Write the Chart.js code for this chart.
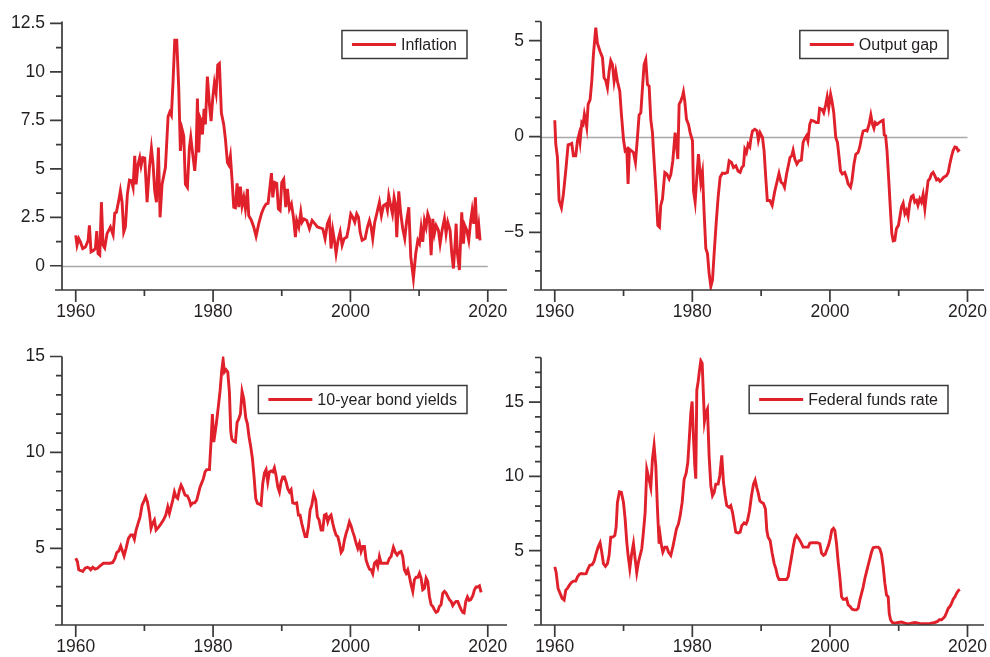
<!DOCTYPE html>
<html>
<head>
<meta charset="utf-8">
<script src="https://cdn.jsdelivr.net/npm/chart.js@4.4.0/dist/chart.umd.min.js"></script>
<style>
  html, body { margin: 0; padding: 0; background: #fff; }
  body { width: 990px; height: 657px; position: relative; overflow: hidden; }
  canvas { position: absolute; }
</style>
</head>
<body>
<canvas id="inflationChart"></canvas>
<canvas id="gapChart"></canvas>
<canvas id="bondChart"></canvas>
<canvas id="fedChart"></canvas>
<script>
// ---- data (quarterly-ish) ----
const yearTicks = [1960, 1980, 2000, 2020];

const inflationTicks = [0, 2.5, 5, 7.5, 10, 12.5];
const inflationYears = [
  1960.00,1960.19,1960.44,1960.68,1961.02,1961.41,1961.80,1961.99,1962.23,1962.62,1962.86,1963.06,1963.25,1963.50,1963.74,1963.98,1964.22,1964.56,1965.05,1965.44,1965.68,1965.92,1966.26,1966.50,1966.75,1966.99,1967.23,1967.52,1967.82,1968.11,1968.35,1968.59,1968.79,1969.08,1969.32,1969.51,1969.76,
  1970.05,1970.39,1970.73,1971.02,1971.26,1971.50,1971.75,1972.04,1972.28,1972.57,1972.82,1973.06,1973.45,1973.69,1973.93,1974.17,1974.42,1974.71,1975.00,1975.24,1975.49,1975.73,1975.97,1976.26,1976.55,1976.75,1977.04,1977.33,1977.52,1977.72,1977.91,1978.11,1978.30,1978.45,1978.69,1978.88,1979.17,1979.47,1979.71,1979.95,
  1980.19,1980.44,1980.68,1980.92,1981.21,1981.55,1981.80,1982.09,1982.28,1982.52,1982.77,1983.01,1983.25,1983.50,1983.74,1983.98,1984.22,1984.47,1984.71,1985.00,1985.19,1985.58,1985.92,1986.26,1986.65,1987.04,1987.38,1987.72,1988.01,1988.50,1988.69,1988.98,1989.27,1989.51,1989.76,
  1990.00,1990.29,1990.58,1990.83,1991.12,1991.41,1991.70,1991.99,1992.18,1992.48,1992.77,1992.96,1993.25,1993.64,1994.03,1994.42,1994.81,1995.19,1995.58,1995.97,1996.31,1996.65,1996.94,1997.18,1997.43,1997.67,1997.91,1998.20,1998.50,1998.79,1999.08,1999.47,1999.76,
  2000.05,2000.34,2000.63,2000.92,2001.17,2001.41,2001.70,2002.14,2002.48,2002.77,2003.01,2003.25,2003.54,2003.83,2004.22,2004.51,2004.81,2005.19,2005.39,2005.58,2005.87,2006.12,2006.36,2006.55,2006.75,2007.04,2007.33,2007.62,2007.91,2008.20,2008.50,2008.79,2009.17,2009.51,2009.81,
  2010.05,2010.29,2010.53,2010.78,2011.02,2011.26,2011.50,2011.75,2011.99,2012.23,2012.48,2012.82,2013.06,2013.35,2013.69,2013.93,2014.17,2014.51,2014.76,2015.00,2015.24,2015.39,2015.58,2015.87,2016.21,2016.46,2016.65,2016.94,2017.23,2017.52,2017.72,2017.96,2018.20,2018.45,2018.69,2018.88
];
const inflationValues = [
  1.57,1.06,1.4,1.23,0.89,0.97,1.3,2.08,0.72,0.8,0.9,1.79,0.63,0.55,3.28,1.06,0.92,1.66,2.0,1.6,2.71,2.76,3.36,3.87,3.28,1.74,2.0,3.7,4.42,4.39,4.04,5.67,4.2,5.24,5.58,5.15,5.58,
  5.55,3.28,5.07,6.06,5.24,3.87,3.28,6.1,2.5,4.2,4.64,5.07,7.7,7.93,7.76,9.5,11.64,11.64,9.16,5.92,7.03,6.69,4.2,4.04,6.1,6.64,5.75,4.9,5.75,8.62,5.84,7.63,7.46,6.77,8.1,7.29,9.76,8.31,7.46,8.65,
  9.42,8.91,10.36,10.44,7.88,7.29,6.52,5.32,5.2,5.67,4.39,3.02,2.99,4.25,3.02,4.08,3.1,3.53,2.94,3.96,2.59,2.34,2.0,1.52,2.17,2.68,2.99,3.19,3.22,4.78,3.53,4.3,4.25,2.94,2.85,
  4.3,4.47,3.02,3.96,2.94,3.19,2.51,1.48,2.34,2.0,2.76,2.25,2.42,2.34,1.91,2.34,2.17,2.0,1.96,1.91,1.4,2.17,2.42,0.89,1.83,1.31,0.63,1.31,1.74,1.06,1.4,1.48,2.0,
  2.68,2.51,2.25,2.68,2.51,1.74,1.31,1.4,2.0,2.34,2.0,1.4,2.25,2.68,3.28,2.59,3.1,3.19,2.88,3.62,3.1,2.68,3.53,3.19,1.48,3.84,2.68,1.91,1.4,2.34,3.02,0.46,-0.65,0.63,1.31,
  1.14,1.95,1.23,2.34,2.0,2.68,2.42,0.55,2.42,1.66,2.08,1.83,1.14,1.83,2.42,1.66,2.25,1.83,0.63,-0.14,1.14,2.17,0.63,-0.22,2.76,1.14,2.08,1.83,1.31,2.34,2.85,2.17,3.53,1.4,2.08,1.31
];

const gapTicks = [-5, 0, 5];
const gapYears = [
  1960.00,1960.15,1960.39,1960.63,1960.97,1961.26,1961.60,1961.94,1962.23,1962.47,1962.71,1963.05,1963.30,1963.54,1963.68,1963.93,1964.12,1964.31,1964.51,1964.65,1964.85,1965.14,1965.38,1965.62,1965.96,1966.20,1966.59,1966.93,1967.17,1967.42,1967.66,1967.90,1968.14,1968.39,1968.63,1968.87,1969.11,1969.45,1969.69,1969.99,
  1970.23,1970.47,1970.66,1970.86,1971.15,1971.44,1971.73,1972.02,1972.26,1972.51,1972.75,1972.99,1973.23,1973.48,1973.72,1973.96,1974.20,1974.44,1974.74,1974.98,1975.22,1975.41,1975.66,1976.00,1976.29,1976.63,1976.87,1977.16,1977.50,1977.69,1977.89,1978.08,1978.32,1978.57,1978.71,1978.90,1979.15,1979.44,1979.68,
  1980.02,1980.17,1980.41,1980.65,1980.89,1981.09,1981.23,1981.47,1981.72,1981.96,1982.20,1982.44,1982.69,1982.93,1983.17,1983.46,1983.75,1984.04,1984.38,1984.72,1985.11,1985.35,1985.69,1985.98,1986.32,1986.66,1986.95,1987.19,1987.44,1987.63,1987.87,1988.11,1988.36,1988.50,1988.74,1989.08,1989.40,1989.60,1989.85,
  1990.20,1990.43,1990.67,1990.90,1991.25,1991.60,1992.00,1992.30,1992.60,1992.90,1993.20,1993.40,1993.70,1993.90,1994.20,1994.45,1994.65,1994.90,1995.20,1995.50,1995.85,1996.10,1996.30,1996.60,1996.80,1997.07,1997.30,1997.65,1998.00,1998.30,1998.50,1998.86,1999.10,1999.40,1999.60,1999.83,
  2000.10,2000.30,2000.56,2000.85,2001.10,2001.34,2001.53,2001.80,2002.16,2002.40,2002.65,2003.00,2003.20,2003.50,2003.76,2004.10,2004.34,2004.60,2004.83,2005.17,2005.40,2005.70,2005.95,2006.20,2006.40,2006.60,2006.86,2007.15,2007.50,2007.74,2007.90,2008.10,2008.30,2008.56,2008.80,2009.00,2009.20,2009.43,2009.67,2009.96,
  2010.16,2010.40,2010.65,2010.90,2011.13,2011.37,2011.60,2011.85,2012.10,2012.34,2012.60,2012.80,2013.07,2013.30,2013.55,2013.80,2014.04,2014.28,2014.50,2014.76,2015.00,2015.25,2015.50,2015.73,2016.00,2016.20,2016.56,2016.94,2017.20,2017.43,2017.67,2017.90,2018.16,2018.40,2018.64,2018.88
];
const gapValues = [
  0.85,-0.4,-1.09,-3.33,-3.71,-2.99,-1.78,-0.43,-0.4,-0.36,-1.0,-1.0,-0.22,0.12,-0.26,0.73,0.64,1.16,0.81,0.5,1.68,1.93,2.88,4.27,5.68,4.87,4.44,4.13,3.06,2.92,2.54,3.4,3.96,3.75,2.88,3.4,2.88,2.37,1.16,-0.14,
  -0.74,-0.66,-2.47,-0.66,-0.74,-0.83,-1.35,-0.05,1.12,1.24,2.54,3.75,4.01,2.71,2.63,0.9,0.21,-1.26,-2.99,-4.63,-4.72,-3.59,-3.25,-1.87,-1.95,-2.21,-1.99,-1.26,0.21,-0.4,-1.17,1.68,1.85,2.11,2.33,1.85,0.9,0.64,0.21,
  -0.22,-2.82,-3.42,-2.12,-0.92,-1.78,-2.38,-1.87,-4.02,-5.84,-6.1,-7.13,-7.82,-7.48,-6.1,-4.54,-3.16,-2.12,-1.9,-1.92,-1.87,-1.26,-1.35,-1.61,-1.52,-1.81,-1.87,-1.61,-1.52,-0.66,-0.83,-0.4,-0.54,-0.14,0.29,0.38,0.3,-0.19,0.2,
  -0.05,-0.74,-2.12,-3.33,-3.33,-3.59,-2.82,-2.38,-1.92,-2.38,-2.47,-2.64,-1.95,-1.61,-1.09,-1.0,-0.71,-1.17,-1.43,-1.26,-1.23,-0.31,-0.14,0.04,-0.22,0.64,0.85,0.81,0.73,0.73,1.47,1.42,1.24,1.68,2.06,1.5,
  2.2,1.85,1.24,-0.05,-0.31,-1.09,-1.78,-1.95,-1.87,-2.12,-2.47,-2.64,-2.3,-1.43,-0.92,-0.83,-0.54,-0.05,0.29,0.33,0.29,0.64,1.12,0.64,0.43,0.73,0.64,0.73,0.81,0.85,0.09,0.04,-0.74,-2.3,-3.85,-5.06,-5.44,-5.41,-4.8,-4.63,
  -4.2,-3.68,-3.47,-4.02,-3.85,-4.16,-3.5,-3.13,-3.07,-3.42,-3.33,-3.59,-3.25,-3.42,-3.02,-3.76,-2.99,-2.3,-2.21,-1.95,-1.87,-2.04,-2.26,-2.21,-2.33,-2.26,-2.12,-2.04,-1.87,-1.43,-1.05,-0.74,-0.54,-0.57,-0.74,-0.67
];

const bondTicks = [5, 10, 15];
const bondYears = [
  1960.00,1960.24,1960.44,1960.73,1961.02,1961.36,1961.70,1961.99,1962.18,1962.48,1962.82,1963.16,1963.54,1964.03,1964.51,1965.00,1965.39,1965.73,1965.97,1966.26,1966.55,1966.75,1967.04,1967.33,1967.67,1968.01,1968.30,1968.54,1968.79,1969.08,1969.37,1969.66,1969.95,
  1970.19,1970.44,1970.73,1970.97,1971.21,1971.46,1971.70,1972.04,1972.38,1972.77,1973.11,1973.40,1973.64,1973.88,1974.13,1974.37,1974.61,1974.85,1975.10,1975.34,1975.58,1975.92,1976.26,1976.55,1976.75,1977.04,1977.33,1977.62,1977.86,1978.11,1978.35,1978.59,1978.83,1979.08,1979.47,1979.71,1979.90,
  1980.10,1980.34,1980.53,1980.78,1981.02,1981.26,1981.46,1981.65,1981.89,1982.14,1982.38,1982.57,1982.72,1982.96,1983.25,1983.50,1983.74,1983.98,1984.22,1984.47,1984.76,1985.00,1985.24,1985.49,1985.73,1985.97,1986.21,1986.46,1986.75,1986.99,1987.23,1987.48,1987.72,1987.96,1988.20,1988.45,1988.69,1988.93,1989.17,1989.42,1989.66,1989.90,
  1990.15,1990.39,1990.63,1990.87,1991.12,1991.36,1991.60,1991.89,1992.18,1992.43,1992.67,1992.91,1993.16,1993.40,1993.64,1993.88,1994.13,1994.37,1994.66,1994.95,1995.19,1995.44,1995.73,1995.97,1996.21,1996.46,1996.70,1996.94,1997.18,1997.43,1997.67,1997.91,1998.16,1998.40,1998.64,1998.88,1999.13,1999.37,1999.61,1999.85,
  2000.10,2000.34,2000.58,2000.83,2001.07,2001.31,2001.55,2001.80,2002.04,2002.28,2002.52,2002.77,2003.01,2003.25,2003.50,2003.74,2003.98,2004.22,2004.47,2004.71,2005.05,2005.39,2005.68,2005.92,2006.26,2006.55,2006.80,2007.09,2007.38,2007.62,2007.86,2008.11,2008.35,2008.59,2008.83,2009.08,2009.32,2009.56,2009.81,
  2010.05,2010.29,2010.53,2010.78,2011.02,2011.26,2011.50,2011.75,2011.99,2012.23,2012.48,2012.72,2012.96,2013.20,2013.45,2013.69,2013.93,2014.17,2014.42,2014.66,2014.90,2015.15,2015.39,2015.63,2015.87,2016.12,2016.36,2016.55,2016.80,2017.04,2017.28,2017.52,2017.82,2018.06,2018.30,2018.54,2018.79,2019.03
];
const bondValues = [
  4.48,4.31,3.88,3.84,3.79,3.96,4.01,3.96,3.88,4.01,3.91,3.96,4.08,4.22,4.22,4.22,4.26,4.48,4.78,4.86,5.12,4.91,4.6,5.0,5.52,5.69,5.69,5.47,5.95,6.3,6.64,7.25,7.47,
  7.68,7.42,6.82,6.04,6.3,6.47,5.95,6.09,6.26,6.47,6.73,7.16,6.82,7.16,7.51,7.94,7.68,7.6,8.03,8.29,8.11,7.77,7.73,7.51,7.25,7.37,7.37,7.51,7.85,8.2,8.41,8.63,8.98,9.1,9.1,10.62,12.0,
  10.54,11.14,11.66,12.44,13.22,14.26,14.83,14.19,14.31,14.19,13.13,11.14,10.71,10.59,10.54,11.57,11.75,12.0,13.18,12.79,11.8,11.49,10.8,10.28,9.67,8.72,7.6,7.34,7.3,7.25,8.37,8.93,9.1,8.46,8.98,9.03,8.98,9.2,8.8,8.2,7.94,8.46,
  8.72,8.72,8.46,8.11,7.94,8.06,7.37,7.34,7.37,6.73,6.73,6.3,5.95,5.61,5.61,6.12,6.99,7.25,7.82,7.51,6.64,6.47,5.95,5.95,6.73,6.78,6.38,6.64,6.73,6.3,5.95,5.69,5.61,5.26,4.78,4.91,5.43,5.78,6.04,6.38,
  6.16,5.87,5.61,5.26,5.0,5.26,4.83,5.09,5.09,4.39,4.13,3.91,3.88,3.67,4.22,4.31,4.05,4.57,4.22,4.22,4.22,4.22,4.48,4.57,5.05,4.78,4.65,4.78,4.83,4.57,3.88,3.7,3.88,3.53,3.1,2.75,3.36,3.49,3.49,
  3.7,3.44,2.84,2.92,3.44,3.27,2.49,2.06,1.97,1.8,1.66,1.71,1.97,2.06,2.66,2.75,2.66,2.49,2.32,2.23,2.01,2.15,2.23,2.23,2.01,1.8,1.66,1.63,2.23,2.46,2.28,2.32,2.53,2.84,2.98,2.98,3.04,2.7
];

const fedTicks = [5, 10, 15];
const fedYears = [
  1960.00,1960.19,1960.48,1960.78,1961.07,1961.36,1961.60,1961.84,1962.13,1962.42,1962.71,1963.05,1963.30,1963.59,1963.88,1964.27,1964.56,1964.85,1965.09,1965.43,1965.72,1966.01,1966.30,1966.59,1966.83,1967.08,1967.37,1967.66,1967.90,1968.14,1968.43,1968.73,1968.92,1969.11,1969.40,1969.69,1969.99,
  1970.23,1970.47,1970.66,1970.91,1971.15,1971.44,1971.68,1971.92,1972.17,1972.41,1972.65,1972.89,1973.14,1973.38,1973.62,1973.96,1974.20,1974.44,1974.69,1974.93,1975.17,1975.32,1975.51,1975.71,1976.00,1976.29,1976.53,1976.87,1977.16,1977.45,1977.69,1977.98,1978.23,1978.52,1978.81,1979.10,1979.34,1979.58,1979.78,1979.97,
  1980.16,1980.36,1980.50,1980.65,1980.84,1981.04,1981.23,1981.43,1981.62,1981.76,1981.96,1982.20,1982.44,1982.69,1982.93,1983.17,1983.41,1983.75,1983.99,1984.28,1984.53,1984.77,1985.01,1985.35,1985.59,1985.84,1986.08,1986.32,1986.66,1986.95,1987.19,1987.53,1987.82,1988.02,1988.31,1988.60,1988.89,1989.13,1989.37,1989.57,1989.81,
  1990.05,1990.34,1990.63,1990.83,1991.02,1991.31,1991.60,1991.90,1992.14,1992.38,1992.62,1992.96,1993.35,1993.69,1993.93,1994.17,1994.42,1994.66,1994.90,1995.14,1995.39,1995.63,1995.87,1996.11,1996.45,1996.84,1997.08,1997.42,1997.81,1998.20,1998.54,1998.78,1999.07,1999.31,1999.55,1999.80,
  2000.04,2000.28,2000.52,2000.72,2000.96,2001.20,2001.44,2001.69,2001.93,2002.17,2002.41,2002.66,2002.95,2003.24,2003.53,2003.87,2004.11,2004.35,2004.60,2004.84,2005.08,2005.32,2005.56,2005.81,2006.05,2006.29,2006.63,2007.02,2007.26,2007.50,2007.75,2007.99,2008.23,2008.47,2008.62,2008.81,2009.06,2009.44,2009.93,
  2010.41,2010.90,2011.38,2011.87,2012.35,2012.84,2013.32,2013.81,2014.29,2014.77,2015.26,2015.65,2015.89,2016.23,2016.47,2016.71,2016.96,2017.20,2017.44,2017.68,2017.92,2018.17,2018.41,2018.65,2018.89
];
const fedValues = [
  3.91,3.57,2.46,2.13,1.79,1.68,2.35,2.46,2.68,2.86,2.95,2.95,3.24,3.42,3.46,3.44,3.46,3.8,4.02,4.06,4.29,4.8,5.24,5.53,4.91,4.13,3.95,4.13,4.69,5.91,5.91,6.02,6.58,8.25,8.96,8.92,8.25,
  7.14,5.58,4.69,3.8,4.69,5.47,4.47,3.53,4.24,4.69,5.13,6.25,7.58,10.48,9.99,9.25,11.15,12.08,10.7,7.81,5.47,6.02,5.36,4.91,5.24,5.24,4.91,4.69,5.24,5.91,6.47,6.8,7.36,8.25,9.81,10.21,10.92,12.71,14.27,15.04,
  12.71,10.7,9.85,15.8,16.35,17.13,17.78,17.6,15.38,13.71,14.27,14.54,11.37,9.37,8.7,8.92,9.48,9.48,10.03,11.41,9.59,8.7,8.03,7.92,8.03,7.58,6.92,6.25,6.2,6.25,6.69,6.87,6.8,7.03,7.69,8.7,9.48,9.75,9.25,8.9,8.36,
  8.25,8.18,7.8,6.36,5.91,5.69,4.84,4.13,3.8,3.29,3.06,3.06,3.06,3.06,3.24,3.91,4.58,5.24,5.8,6.02,5.87,5.69,5.47,5.24,5.24,5.24,5.51,5.53,5.53,5.53,5.47,4.84,4.69,4.76,5.07,5.36,
  5.8,6.4,6.51,6.36,5.47,4.24,3.24,1.9,1.73,1.73,1.79,1.35,1.24,1.06,1.02,1.02,1.13,1.68,2.13,2.57,3.13,3.57,4.02,4.47,4.91,5.2,5.24,5.24,5.13,4.76,3.91,2.8,2.02,1.9,0.79,0.35,0.17,0.13,0.17,
  0.2,0.13,0.08,0.13,0.17,0.13,0.08,0.08,0.08,0.13,0.17,0.24,0.35,0.35,0.46,0.57,0.84,1.12,1.24,1.46,1.73,1.9,2.13,2.31,2.39
];

// ---- drawing helpers ----
const RED = '#e0202a';
const AXIS = '#3a3a3a';
const TEXT = '#231f20';
const FONT = '"Liberation Sans", Arial, Helvetica, sans-serif';

function isLabelled(v, list) {
  return list.some(t => Math.abs(t - v) < 1e-6);
}
function fmt(v) {
  return v < 0 ? '\u2212' + Math.abs(v) : String(v);
}

const framePlugin = {
  id: 'frame',
  beforeDatasetsDraw(chart, args, opts) {
    if (!opts.zero) return;
    const { ctx, chartArea: a, scales: { x, y } } = chart;
    const py = Math.round(y.getPixelForValue(0)) + 0.5;
    ctx.save();
    ctx.strokeStyle = '#a8a8a8';
    ctx.lineWidth = 1.6;
    ctx.beginPath();
    ctx.moveTo(a.left, py);
    ctx.lineTo(x.getPixelForValue(yearTicks[yearTicks.length - 1]), py);
    ctx.stroke();
    ctx.restore();
  },
  afterDraw(chart, args, opts) {
    const { ctx, chartArea: a, scales: { x, y } } = chart;
    ctx.save();
    ctx.strokeStyle = AXIS;
    ctx.lineWidth = 1.7;
    ctx.beginPath();
    ctx.moveTo(a.left, a.top);
    ctx.lineTo(a.left, a.bottom);
    ctx.moveTo(a.left - 7, a.bottom);
    ctx.lineTo(a.right, a.bottom);
    y.ticks.forEach(t => {
      const p = y.getPixelForValue(t.value);
      const len = isLabelled(t.value, opts.yLabels) ? 12 : 6;
      ctx.moveTo(a.left - len, p);
      ctx.lineTo(a.left, p);
    });
    x.ticks.forEach(t => {
      const p = x.getPixelForValue(t.value);
      const len = isLabelled(t.value, yearTicks) ? 12 : 6;
      ctx.moveTo(p, a.bottom);
      ctx.lineTo(p, a.bottom + len);
    });
    ctx.stroke();

    // legend box
    const label = chart.data.datasets[0].label;
    ctx.font = '16px ' + FONT;
    const tw = ctx.measureText(label).width;
    const w = 10 + 44 + 5 + tw + 10;
    const h = 28;
    const bx = a.right - opts.legendRight - w;
    const by = a.top + opts.legendTop;
    ctx.fillStyle = '#fff';
    ctx.fillRect(bx, by, w, h);
    ctx.strokeStyle = AXIS;
    ctx.lineWidth = 1.5;
    ctx.strokeRect(bx, by, w, h);
    ctx.strokeStyle = RED;
    ctx.lineWidth = 3;
    ctx.beginPath();
    ctx.moveTo(bx + 10, by + h / 2);
    ctx.lineTo(bx + 54, by + h / 2);
    ctx.stroke();
    ctx.fillStyle = TEXT;
    ctx.textBaseline = 'middle';
    ctx.textAlign = 'left';
    ctx.fillText(label, bx + 59, by + h / 2 + 1);
    ctx.restore();
  }
};

function makePanel(id, area, cfg) {
  const canvas = document.getElementById(id);
  const padTop = 14, padRight = 25, yW = 50, xH = 40;
  canvas.width = area.r - area.l + yW + padRight;
  canvas.height = area.b - area.t + padTop + xH;
  canvas.style.left = (area.l - yW) + 'px';
  canvas.style.top = (area.t - padTop) + 'px';

  const points = cfg.years.map((yr, i) => ({ x: yr, y: cfg.values[i] }));

  return new Chart(canvas.getContext('2d'), {
    type: 'line',
    data: {
      datasets: [{
        label: cfg.label,
        data: points,
        borderColor: RED,
        borderWidth: 2.9,
        pointRadius: 0,
        tension: 0,
        fill: false
      }]
    },
    options: {
      responsive: false,
      animation: false,
      events: [],
      layout: { padding: { left: 0, top: padTop, right: padRight, bottom: 0 } },
      plugins: {
        legend: { display: false },
        tooltip: { enabled: false },
        frame: { zero: cfg.zero, yLabels: cfg.ticks, legendRight: cfg.legendRight, legendTop: cfg.legendTop }
      },
      scales: {
        x: {
          type: 'linear',
          min: 1958,
          max: cfg.xMax,
          afterFit: s => { s.height = xH; },
          border: { display: false },
          grid: { display: true, drawOnChartArea: false, drawTicks: true, tickLength: 12, tickColor: 'rgba(0,0,0,0)' },
          ticks: {
            stepSize: 10,
            includeBounds: false,
            autoSkip: false,
            maxRotation: 0,
            padding: 0,
            color: TEXT,
            font: { family: FONT, size: 17.5 },
            callback: v => isLabelled(v, yearTicks) ? String(v) : ''
          }
        },
        y: {
          min: cfg.yMin,
          max: cfg.yMax,
          afterFit: s => { s.width = yW; },
          border: { display: false },
          grid: { display: true, drawOnChartArea: false, drawTicks: true, tickLength: 12, tickColor: 'rgba(0,0,0,0)' },
          ticks: {
            stepSize: cfg.step,
            includeBounds: false,
            autoSkip: false,
            padding: 5,
            color: TEXT,
            font: { family: FONT, size: 17.5 },
            callback: v => isLabelled(v, cfg.ticks) ? fmt(v) : ''
          }
        }
      }
    },
    plugins: [framePlugin]
  });
}

makePanel('inflationChart', { l: 62, t: 20, r: 507, b: 290 }, {
  label: 'Inflation', years: inflationYears, values: inflationValues, ticks: inflationTicks,
  yMin: -1.25, yMax: 12.6, step: 1.25, xMax: 2022.8, zero: true, legendRight: 40, legendTop: 9
});
makePanel('gapChart', { l: 541, t: 20, r: 984, b: 290 }, {
  label: 'Output gap', years: gapYears, values: gapValues, ticks: gapTicks,
  yMin: -8, yMax: 6, step: 1, xMax: 2022.4, zero: true, legendRight: 36, legendTop: 9
});
makePanel('bondChart', { l: 62, t: 355, r: 507, b: 625 }, {
  label: '10-year bond yields', years: bondYears, values: bondValues, ticks: bondTicks,
  yMin: 1, yMax: 15, step: 1, xMax: 2022.8, zero: false, legendRight: 40, legendTop: 29
});
makePanel('fedChart', { l: 541, t: 356, r: 984, b: 625 }, {
  label: 'Federal funds rate', years: fedYears, values: fedValues, ticks: fedTicks,
  yMin: 0, yMax: 18, step: 1, xMax: 2022.4, zero: false, legendRight: 36, legendTop: 28
});
</script>
</body>
</html>
